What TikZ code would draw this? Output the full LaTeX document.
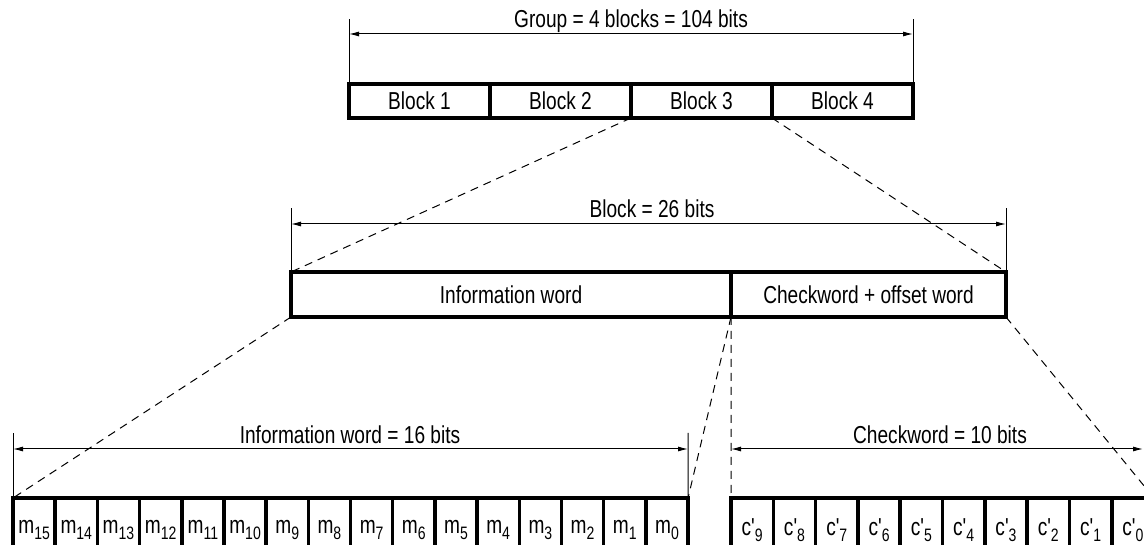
\documentclass[tikz,border=0pt]{standalone}
\usepackage{fontspec}
\setmainfont{Liberation Sans}[Ligatures=TeXOff, FakeStretch=0.78]
\usetikzlibrary{arrows.meta, calc}
\newcommand{\lo}[1]{\raisebox{-0.45ex}{\fontsize{18}{18}\selectfont #1}}

\begin{document}
\begin{tikzpicture}[x=1pt, y=1pt,
	box/.style={draw, line width=3.5pt, outer sep=0pt, inner sep=0pt, minimum height=34pt, minimum width=141pt},
	bit/.style={draw, line width=3.5pt, outer sep=0pt, inner sep=0pt, minimum height=64pt, minimum width=42.2pt},
	zoomline/.style={line width=1pt, dash pattern=on 8pt off 6pt},
	dimline/.style={line width=1pt, {Latex[length=10pt,width=5pt]}-{Latex[length=10pt,width=5pt]}},
	tick/.style={line width=1pt},
	every node/.style={font=\fontsize{24.5}{28}\selectfont}]

	\useasboundingbox (0,0) rectangle (1144,544);

	\foreach \i/\x in {1/419.5, 2/560.5, 3/701.5, 4/842.5}
		\node[box] (b\i) at (\x,443) {Block \i};

	\node[box, minimum width=440pt, minimum height=45pt] (info) at (511,249.5) {Information word};
	\node[box, minimum width=275pt, minimum height=45pt] (check) at (868.5,249.5) {Checkword + offset word};

	\foreach \i in {0,...,15}
		\node[bit] (m\i) at ({13+42.19*(15-\i)+21.1},14) {m\lo{\i}};
	\foreach \i in {0,...,9}
		\node[bit] (c\i) at ({731+42.3*(9-\i)+21.15},14) {c'\lo{\i}};

	\coordinate (gT1) at (349,525);
	\coordinate (gT2) at (913,525);
	\coordinate (gA1) at (349,510);
	\coordinate (gA2) at (913,510);
	\draw[tick] (b1.north west) -- (gT1);
	\draw[tick] (b4.north east) -- (gT2);
	\draw[dimline] (gA1) -- (gA2);
	\node[anchor=base] (glabel) at (631,516) {Group = 4 blocks = 104 bits};

	\coordinate (kT1) at (291,336);
	\coordinate (kT2) at (1006,336);
	\coordinate (kA1) at (291,320);
	\coordinate (kA2) at (1006,320);
	\draw[tick] (info.north west) -- (kT1);
	\draw[tick] (check.north east) -- (kT2);
	\draw[dimline] (kA1) -- (kA2);
	\node[anchor=base] (klabel) at (652,326) {Block = 26 bits};

	\coordinate (iT1) at (13,111);
	\coordinate (iT2) at (688,111);
	\coordinate (iA1) at (13,95);
	\coordinate (iA2) at (688,95);
	\draw[tick] (m15.north west) -- (iT1);
	\draw[tick] (m0.north east) -- (iT2);
	\draw[dimline] (iA1) -- (iA2);
	\node[anchor=base] (ilabel) at (350,100) {Information word = 16 bits};

	\coordinate (cA1) at (731,95);
	\coordinate (cA2) at (1143,95);
	\draw[dimline] (cA1) -- (cA2);
	\node[anchor=base] (clabel) at (940,100) {Checkword = 10 bits};

	% zoom lines
	\draw[zoomline] (b3.south west) -- (info.north west);
	\draw[zoomline] (b3.south east) -- (check.north east);
	\draw[zoomline] (info.south west) -- (m15.north west);
	\draw[zoomline] (info.south east) -- (m0.north east);
	\draw[zoomline] (check.south west) -- (c9.north west);
	\draw[zoomline] (check.south east) -- (c0.north east);

\end{tikzpicture}
\end{document}
